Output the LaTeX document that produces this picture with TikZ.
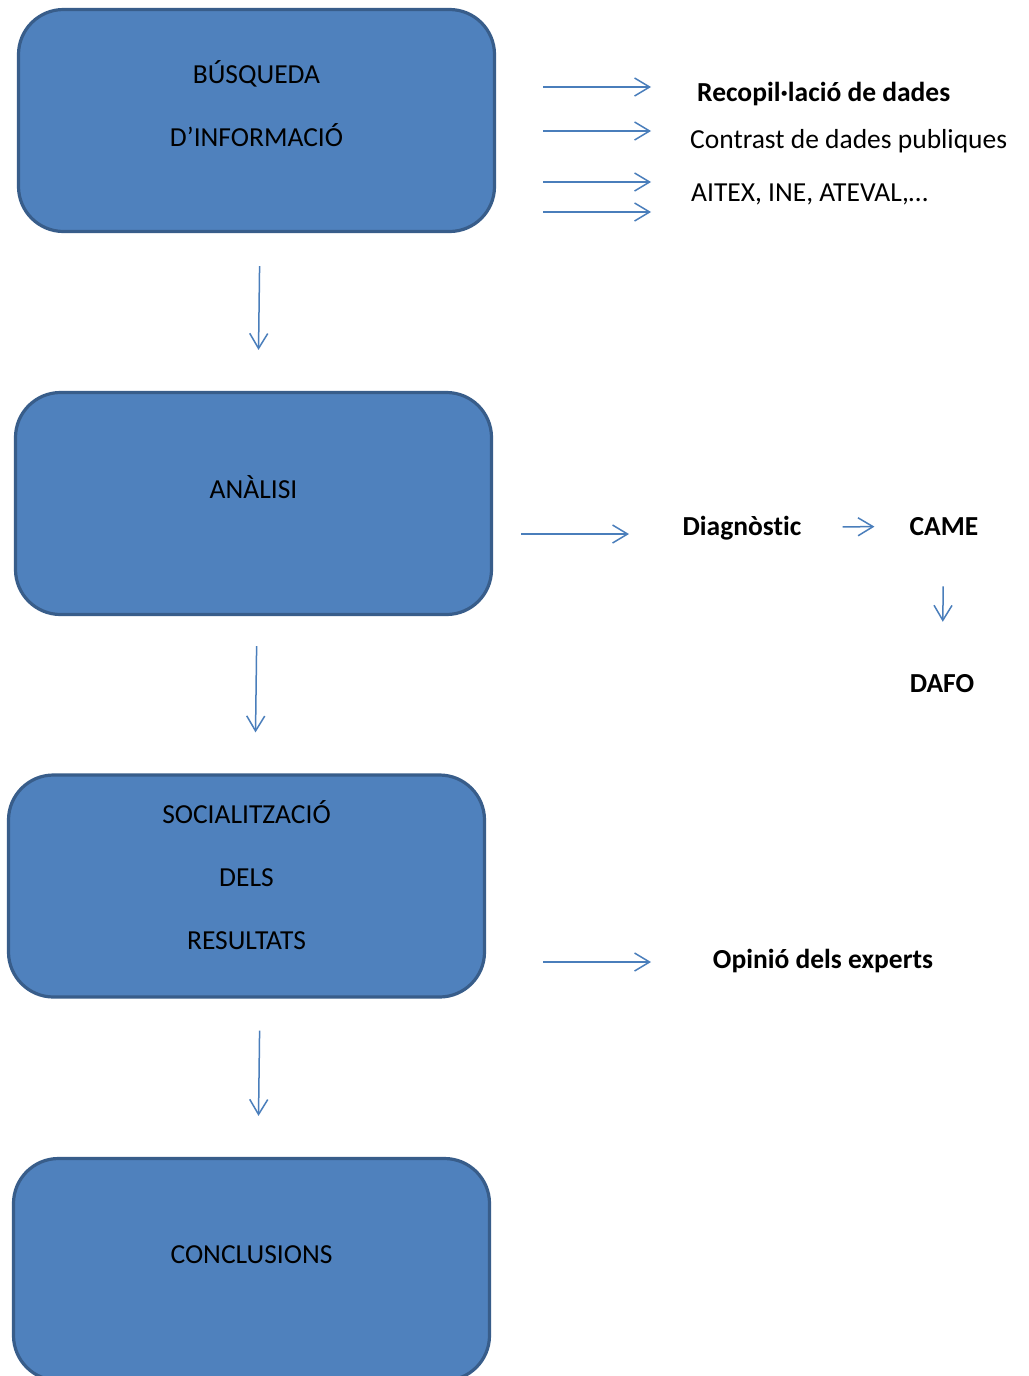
\documentclass[tikz,border=0pt]{standalone}
\usepackage{fontspec}
\setmainfont[Ligatures=NoCommon]{Carlito}
\usetikzlibrary{
  arrows.meta,
  positioning
}
\definecolor{boxfill}{HTML}{4F81BD}
\definecolor{boxline}{HTML}{385D8A}
\definecolor{arrowblue}{HTML}{4A7EBB}
\tikzset{%
  phase/.style={draw=boxline, fill=boxfill, line width=3.2pt, rounded corners=45pt,
    minimum width=476pt, minimum height=222pt, inner sep=0pt}, % the four blue stages
  phasetext/.style={align=center, inner sep=0pt, font=\fontsize{27.5}{63}\selectfont},
  note/.style={inner sep=0pt, font=\fontsize{27.5}{32}\selectfont},
  strong/.style={inner sep=0pt, font=\fontsize{27.5}{32}\selectfont\bfseries},
  flow/.style={draw=arrowblue, line width=1.5pt, -{Straight Barb[length=15pt,width=18pt]}}
}

\begin{document}
\begin{tikzpicture}[x=1pt, y=-1pt]
    \useasboundingbox[fill=white] (0,0) rectangle (1028,1376);
    % stages
    \node[phase] (busq) at (256.5,120.5) {};
    \node[phase] (anal) at (253.5,503.5) {};
    \node[phase] (soc) at (246.5,886) {};
    \node[phase] (conc) at (251.5,1269.5) {};
    \node[phasetext] (busqtxt) at ([yshift=16.5pt]busq.center) {BÚSQUEDA\\D’INFORMACIÓ};
    \node[phasetext] (analtxt) at ([yshift=16.5pt]anal.center) {ANÀLISI};
    \node[phasetext] (soctxt) at ([yshift=11pt]soc.center) {SOCIALITZACIÓ\\DELS\\RESULTATS};
    \node[phasetext] (conctxt) at ([yshift=15pt]conc.center) {CONCLUSIONS};
    \draw[flow, shorten <=33pt, shorten >=41pt] ([xshift=3.5pt]busq.south) -- ([xshift=4.5pt]anal.north);
    \draw[flow, shorten <=30pt, shorten >=41pt] ([xshift=3.5pt]anal.south) -- ([xshift=8.5pt]soc.north);
    \draw[flow, shorten <=32pt, shorten >=41pt] ([xshift=13.5pt]soc.south) -- ([xshift=6.5pt]conc.north);
    % sources
    \node[strong, anchor=base west] (recop) at (697,101) {Recopil·lació de dades};
    \node[note, anchor=base west] (contr) at (690,148) {Contrast de dades publiques};
    \node[note, anchor=base west] (aitex) at (691,201) {AITEX, INE, ATEVAL,…};
    \coordinate (s1) at (543,87);  \coordinate (e1) at (651,87);
    \coordinate (s2) at (543,131); \coordinate (e2) at (651,131);
    \coordinate (s3) at (543,182); \coordinate (e3) at (651,182);
    \coordinate (s4) at (543,212); \coordinate (e4) at (651,212);
    \draw[flow] (s1) -- (e1);
    \draw[flow] (s2) -- (e2);
    \draw[flow] (s3) -- (e3);
    \draw[flow] (s4) -- (e4);
    % analysis
    \node[strong, anchor=base] (diag) at (742,535) {Diagnòstic};
    \node[strong, anchor=base] (came) at (944,535) {CAME};
    \node[strong, anchor=base] (dafo) at (942,692) {DAFO};
    \coordinate (s5) at (521,534); \coordinate (e5) at (629,534);
    \draw[flow] (s5) -- (e5);
    \draw[flow, shorten <=41pt, shorten >=35pt] (diag) -- (came);
    \draw[flow, shorten <=51pt, shorten >=52pt] (came) -- (dafo);
    % experts
    \node[strong, anchor=base] (opin) at (823,968) {Opinió dels experts};
    \coordinate (s6) at (543,962); \coordinate (e6) at (651,962);
    \draw[flow] (s6) -- (e6);
\end{tikzpicture}
\end{document}
